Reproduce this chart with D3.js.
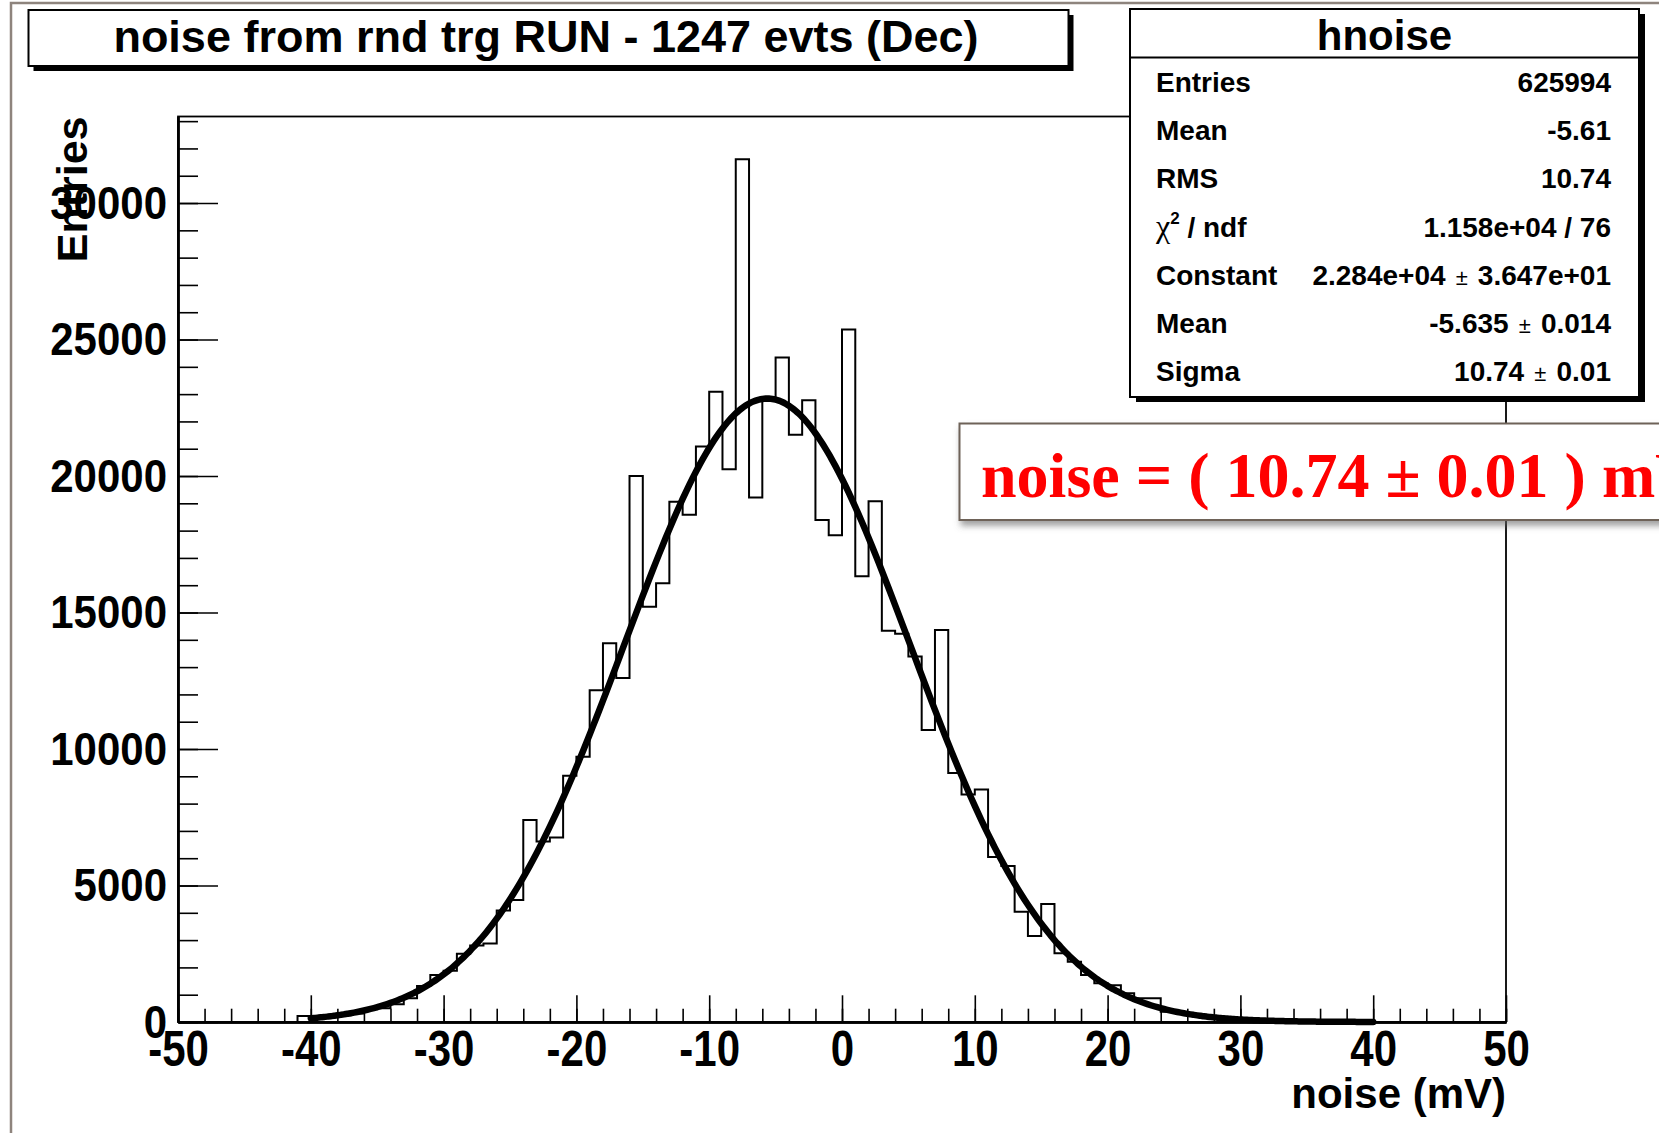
<!DOCTYPE html>
<html>
<head>
<meta charset="utf-8">
<script src="https://cdn.jsdelivr.net/npm/d3@7"></script>
<style>
    html, body { margin: 0; padding: 0; background: #fff; }
    svg { display: block; }
    text { font-family: "Liberation Sans", Arial, Helvetica, sans-serif; font-weight: bold; fill: #000; }
</style>
</head>
<body>
<div id="chart"></div>
<script>
// hnoise histogram, 1 mV bins, first filled bin starts at -41 mV
const binStart = -41;
const binWidth = 1;
const counts = [
    220, 170, 200, 250, 310, 470, 500, 650, 870, 1320,
    1720, 1880, 2500, 2800, 2880, 4080, 4470, 7400, 6610, 6760,
    9020, 9720, 12150, 13870, 12600, 20000, 15210, 16070, 19060, 18580,
    21080, 23090, 20250, 31600, 19210, 22750, 24340, 21510, 22780, 18390,
    17830, 25370, 16330, 19080, 14330, 14220, 13390, 10700, 14360, 9120,
    8330, 8520, 6040, 5710, 4040, 3150, 4320, 2520, 2210, 1720,
    1420, 1350, 1050, 870, 870, 380, 330, 250, 190, 140,
    100, 70, 50, 35, 25, 15, 10, 6, 4
];

// gaus fit as printed in the stats box
const fitConstant = 22840;
const fitMean = -5.635;
const fitSigma = 10.74;
const fitRange = [-40, 40];

const xDomain = [-50, 50];
const yMax = 33170;
const xTickValues = [-50, -40, -30, -20, -10, 0, 10, 20, 30, 40, 50];
const yTickValues = [0, 5000, 10000, 15000, 20000, 25000, 30000];

const titleText = "noise from rnd trg RUN - 1247 evts (Dec)";
const xTitle = "noise (mV)";
const yTitle = "Entries";
const statsName = "hnoise";
const statLabels = ["Entries", "Mean", "RMS", "chi2", "Constant", "Mean", "Sigma"];
const statValues = ["625994", "-5.61", "10.74", "1.158e+04 / 76", "2.284e+04 ± 3.647e+01", "-5.635 ± 0.014", "10.74 ± 0.01"];
const noteText = "noise = ( 10.74 ± 0.01 ) mV";

const width = 1659, height = 1133;
const frame = {left: 178, right: 1506, top: 116.5, bottom: 1022};
const labelStretch = 1.2; // root labels come out a bit taller than helvetica

const svg = d3.select("#chart").append("svg")
    .attr("width", width)
    .attr("height", height);

const defs = svg.append("defs");
defs.append("filter")
    .attr("id", "softShadow")
    .attr("x", "-5%").attr("y", "-20%")
    .attr("width", "115%").attr("height", "160%")
    .append("feDropShadow")
    .attr("dx", 2).attr("dy", 5)
    .attr("stdDeviation", 3)
    .attr("flood-color", "#666")
    .attr("flood-opacity", 0.6);

// slide border
svg.append("path")
    .attr("d", `M11,${height} V3 H${width}`)
    .attr("fill", "none")
    .attr("stroke", "#8e847d")
    .attr("stroke-width", 2.5);

const x = d3.scaleLinear().domain(xDomain).range([frame.left, frame.right]);
const y = d3.scaleLinear().domain([0, yMax]).range([frame.bottom, frame.top]);

// frame
svg.append("rect")
    .attr("x", frame.left)
    .attr("y", frame.top)
    .attr("width", frame.right - frame.left)
    .attr("height", frame.bottom - frame.top)
    .attr("fill", "none")
    .attr("stroke", "#000")
    .attr("stroke-width", 1.8);

// histogram outline
const steps = [[xDomain[0], 0], [binStart, 0]];
counts.forEach((c, i) => {
    const lo = binStart + i * binWidth;
    steps.push([lo, c], [lo + binWidth, c]);
});
steps.push([binStart + counts.length * binWidth, 0], [xDomain[1], 0]);

const line = d3.line().x(d => x(d[0])).y(d => y(d[1]));

svg.append("path")
    .attr("class", "hist")
    .attr("d", line(steps))
    .attr("fill", "none")
    .attr("stroke", "#000")
    .attr("stroke-width", 2)
    .attr("stroke-linejoin", "miter");

// fitted gaussian
const fitPoints = d3.range(fitRange[0], fitRange[1] + 0.001, 0.25)
    .map(v => [v, fitConstant * Math.exp(-0.5 * Math.pow((v - fitMean) / fitSigma, 2))]);

svg.append("path")
    .attr("class", "fit")
    .attr("d", line.curve(d3.curveBasis)(fitPoints))
    .attr("fill", "none")
    .attr("stroke", "#000")
    .attr("stroke-width", 6.5)
    .attr("stroke-linecap", "round")
    .attr("stroke-linejoin", "round");

// axes: ticks drawn inside the frame like root does
const yMinor = svg.append("g")
    .attr("transform", `translate(${frame.left},0)`)
    .call(d3.axisLeft(y).tickValues(d3.range(0, yMax, 1000)).tickSizeInner(-20).tickSizeOuter(0).tickFormat(""));

const yMajor = svg.append("g")
    .attr("transform", `translate(${frame.left},0)`)
    .call(d3.axisLeft(y).tickValues(yTickValues).tickSizeInner(-40).tickSizeOuter(0).tickPadding(11).tickFormat(d => String(d)));

const xMinor = svg.append("g")
    .attr("transform", `translate(0,${frame.bottom})`)
    .call(d3.axisBottom(x).tickValues(d3.range(xDomain[0], xDomain[1] + 1, 2)).tickSizeInner(-13.3).tickSizeOuter(0).tickFormat(""));

const xMajor = svg.append("g")
    .attr("transform", `translate(0,${frame.bottom})`)
    .call(d3.axisBottom(x).tickValues(xTickValues).tickSizeInner(-26.7).tickSizeOuter(0).tickFormat(d => String(d)));

[yMinor, yMajor, xMinor, xMajor].forEach(g => {
    g.selectAll("line").attr("stroke-width", 1.6);
    g.select(".domain").attr("stroke-width", 2.4);
    g.attr("font-family", null).attr("font-size", null);
});

yMajor.selectAll("text")
    .attr("font-size", 42)
    .attr("x", -11)
    .attr("y", 15 / 1.1)
    .attr("dy", 0)
    .attr("transform", "scale(1,1.1)");

xMajor.selectAll("text")
    .attr("font-size", 42)
    .attr("y", 44 / labelStretch)
    .attr("dy", 0)
    .attr("transform", `scale(1,${labelStretch})`);

// axis titles
svg.append("text")
    .attr("x", frame.right)
    .attr("y", 1108)
    .attr("text-anchor", "end")
    .attr("font-size", 42)
    .text(xTitle);

svg.append("text")
    .attr("transform", `translate(87,${frame.top}) rotate(-90)`)
    .attr("text-anchor", "end")
    .attr("font-size", 43)
    .text(yTitle);

// title box
const titleBox = {x: 28.5, y: 10, w: 1040, h: 56};
svg.append("rect")
    .attr("x", titleBox.x + 5).attr("y", titleBox.y + 5)
    .attr("width", titleBox.w).attr("height", titleBox.h)
    .attr("fill", "#000");
svg.append("rect")
    .attr("x", titleBox.x).attr("y", titleBox.y)
    .attr("width", titleBox.w).attr("height", titleBox.h)
    .attr("fill", "#fff")
    .attr("stroke", "#000")
    .attr("stroke-width", 2);
svg.append("text")
    .attr("x", 546)
    .attr("y", 52)
    .attr("text-anchor", "middle")
    .attr("font-size", 45)
    .text(titleText);

// stats box
const statBox = {x: 1130, y: 9, w: 509, h: 388};
svg.append("rect")
    .attr("x", statBox.x + 6).attr("y", statBox.y + 5)
    .attr("width", statBox.w).attr("height", statBox.h)
    .attr("fill", "#000");
svg.append("rect")
    .attr("x", statBox.x).attr("y", statBox.y)
    .attr("width", statBox.w).attr("height", statBox.h)
    .attr("fill", "#fff")
    .attr("stroke", "#000")
    .attr("stroke-width", 2);
svg.append("line")
    .attr("x1", statBox.x).attr("x2", statBox.x + statBox.w)
    .attr("y1", 57.5).attr("y2", 57.5)
    .attr("stroke", "#000")
    .attr("stroke-width", 2);
svg.append("text")
    .attr("x", statBox.x + statBox.w / 2)
    .attr("y", 50)
    .attr("text-anchor", "middle")
    .attr("font-size", 42)
    .text(statsName);

const rowY = i => 92 + i * 48.2;

svg.selectAll(".stat-label")
    .data(statLabels)
    .join("text")
    .attr("class", "stat-label")
    .attr("x", 1156)
    .attr("y", (d, i) => rowY(i))
    .attr("font-size", 28)
    .each(function (d) {
        const t = d3.select(this);
        if (d === "chi2") {
            t.append("tspan")
                .style("font-family", "'Liberation Serif', 'DejaVu Serif', serif")
                .style("font-weight", "normal")
                .attr("font-size", 32)
                .text("χ");
            t.append("tspan").attr("font-size", 17).attr("dy", -13).text("2");
            t.append("tspan").attr("dy", 13).text(" / ndf");
        } else {
            t.text(d);
        }
    });

svg.selectAll(".stat-value")
    .data(statValues)
    .join("text")
    .attr("class", "stat-value")
    .attr("x", 1611)
    .attr("y", (d, i) => rowY(i))
    .attr("text-anchor", "end")
    .attr("font-size", 28)
    .each(function (d) {
        const t = d3.select(this);
        const parts = d.split(" ± ");
        t.append("tspan").text(parts[0]);
        if (parts.length > 1) {
            t.append("tspan").attr("dx", 4).attr("font-size", 22).style("font-weight", "normal").text(" ± ");
            t.append("tspan").attr("dx", 4).text(parts[1]);
        }
    });

// red note box pasted on the slide
svg.append("rect")
    .attr("x", 959.5)
    .attr("y", 423.5)
    .attr("width", 760)
    .attr("height", 96.5)
    .attr("fill", "#fff")
    .attr("stroke", "#6e6259")
    .attr("stroke-width", 2)
    .attr("filter", "url(#softShadow)");

svg.append("text")
    .attr("x", 981)
    .attr("y", 497)
    .attr("font-size", 64)
    .style("font-family", "'Liberation Serif', 'Times New Roman', serif")
    .style("fill", "#ff0000")
    .text(noteText);
</script>
</body>
</html>
